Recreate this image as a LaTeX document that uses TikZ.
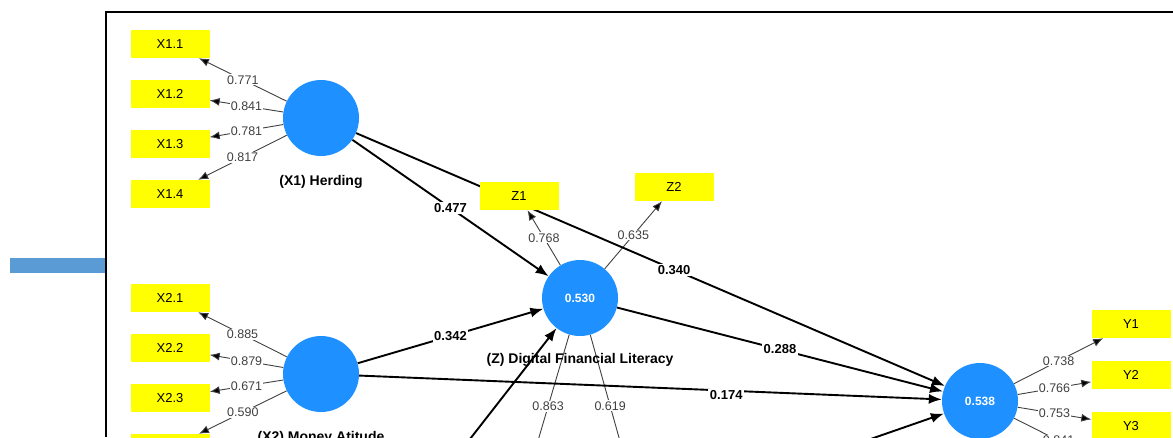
\documentclass[tikz,border=0pt]{standalone}
\usepackage{fontspec}
\setmainfont{Liberation Sans}
\usepackage{tikz}
\usetikzlibrary{arrows.meta,positioning,backgrounds}

\definecolor{plsblue}{RGB}{30,144,255}
\definecolor{plsyellow}{RGB}{255,255,0}
\definecolor{barblue}{RGB}{91,155,213}
\definecolor{loadgray}{RGB}{64,64,64}

\tikzset{
  ind/.style={rectangle, fill=plsyellow, minimum width=79pt, minimum height=28pt, inner sep=0pt, font=\fontsize{13}{15}\selectfont},
  lv/.style={circle, fill=plsblue, minimum size=76pt, inner sep=0pt, text=white, font=\fontsize{12}{14}\selectfont\bfseries},
  lvname/.style={font=\fontsize{14}{16}\selectfont\bfseries},
  load/.style={-{Latex[length=10pt,width=8pt]}, draw=loadgray, line width=0.9pt},
  loadval/.style={fill=white, inner sep=1pt, text=loadgray, font=\fontsize{12.5}{14}\selectfont},
  coef/.style={-{Latex[length=13pt,width=10pt]}, line width=1.9pt},
  coefval/.style={fill=white, inner sep=1.5pt, font=\fontsize{13}{15}\selectfont\bfseries},
}

\begin{document}
\begin{tikzpicture}[x=1pt,y=-1pt,node distance=50pt,on grid]
	\useasboundingbox (0,0) rectangle (1173,437);
	\clip (0,0) rectangle (1173,437);
	% frame of the screenshot
	\fill[barblue] (10,258) rectangle (106,273);
	\draw[line width=1.2pt] (106,437) -- (106,12) -- (1173,12);

	% latent variables
	\node[lv] (X1) at (321,118) {};
	\node[lv] (X2) at (321,374) {};
	\node[lv] (Z) at (580,298) {0.530};
	\node[lv] (Y) at (980,401) {0.538};
	\coordinate (X3) at (321,630);
	\node[lvname] (X1n) [below=64pt of X1] {(X1) Herding};
	\node[lvname] (X2n) [below=64pt of X2] {(X2) Money Atitude};
	\node[lvname] (Zn) [below=62pt of Z] {(Z) Digital Financial Literacy};

	% indicators
	\node[ind] (X11) at (170,44) {X1.1};
	\node[ind] (X12) [below=of X11] {X1.2};
	\node[ind] (X13) [below=of X12] {X1.3};
	\node[ind] (X14) [below=of X13] {X1.4};
	\node[ind] (X21) at (170,298) {X2.1};
	\node[ind] (X22) [below=of X21] {X2.2};
	\node[ind] (X23) [below=of X22] {X2.3};
	\node[ind] (X24) [below=of X23] {};
	\node[ind] (Z1) at (519,196) {Z1};
	\node[ind] (Z2) at (674,187) {Z2};
	\coordinate (Z3) at (527,478);
	\coordinate (Z4) at (630,477);
	\node[ind] (Y1) at (1131,324) {Y1};
	\node[ind] (Y2) [below=51pt of Y1] {Y2};
	\node[ind] (Y3) [below=51pt of Y2] {Y3};
	\coordinate (Y4) at (1103,463);

	\begin{scope}[on background layer]
	\path[load]
	  (X1) edge node[loadval] {0.771} (X11)
	  (X1) edge node[loadval] {0.841} (X12)
	  (X1) edge node[loadval] {0.781} (X13)
	  (X1) edge node[loadval] {0.817} (X14)
	  (X2) edge node[loadval] {0.885} (X21)
	  (X2) edge node[loadval] {0.879} (X22)
	  (X2) edge node[loadval] {0.671} (X23)
	  (X2) edge node[loadval] {0.590} (X24)
	  (Z) edge node[loadval] {0.768} (Z1)
	  (Z) edge node[loadval] {0.635} (Z2)
	  (Z) edge node[loadval] {0.863} (Z3)
	  (Z) edge node[loadval] {0.619} (Z4)
	  (Y) edge node[loadval] {0.738} (Y1)
	  (Y) edge node[loadval] {0.766} (Y2)
	  (Y) edge node[loadval] {0.753} (Y3)
	  (Y) edge node[loadval] {0.841} (Y4)
	;
	\path[coef]
	  (X1) edge node[coefval] {0.477} (Z)
	  (X1) edge node[coefval, pos=0.54] {0.340} (Y)
	  (X2) edge node[coefval] {0.342} (Z)
	  (X2) edge node[coefval, pos=0.63, yshift=-4pt] {0.174} (Y)
	  (Z) edge node[coefval] {0.288} (Y)
	  (X3) edge (Z)
	  (X3) edge (Y)
	;
	\end{scope}
\end{tikzpicture}
\end{document}
